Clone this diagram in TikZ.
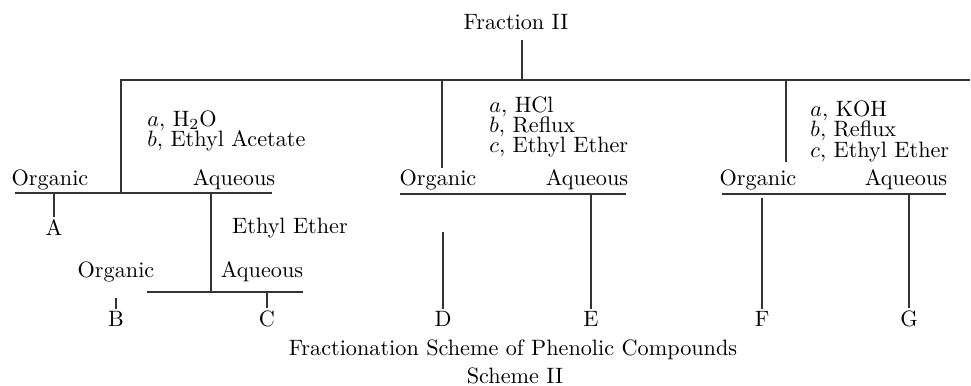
\documentclass[tikz,border=0pt]{standalone}
\usepackage{amsmath}
\usepackage{xcolor}
\usepackage{tikz}
\usetikzlibrary{positioning,calc}
\tikzset{
  lbl/.style  ={inner sep=1pt, font=\normalsize},
  reag/.style ={align=left, anchor=north west, inner sep=0pt,
                font=\fontsize{10}{9.2}\selectfont},
  link/.style ={draw=black!80, line width=0.5pt}
}

\begin{document}
\begin{tikzpicture}[x=0.45pt, y=-0.45pt]
  \useasboundingbox (0,0) rectangle (971,385);
  % source and main bar
  \node[lbl] (frac) at (516,22) {Fraction II};
  \coordinate (fract) at (522,40);
  \coordinate (fracj) at (522,80);
  \coordinate (barl) at (120,80); \coordinate (barr) at (970,80);
  \draw[link] (fract) -- (fracj);
  \draw[link] (barl) -- (barr);

  % left branch
  \coordinate (lj) at (121,193);
  \node[reag] (rl) at (147,110) {$a$, H$_2$O\\$b$, Ethyl Acetate};
  \node[lbl] (orgl) at (50,180)  {Organic};
  \node[lbl] (aqul) at (234,180) {Aqueous};
  \coordinate (lbl0) at (15,193); \coordinate (lbr0) at (272,193);
  \draw[link] (barl -| lj) -- (lj);
  \draw[link] (lbl0) -- (lbr0);
  \node[lbl] (A) at (54,228) {A};
  \draw[link] (54,193) -- (A);
  \node[lbl] (ee) at (290,228) {Ethyl Ether};
  \coordinate (ej) at (211,292);
  \draw[link] (211,193) -- (ej);
  \node[lbl] (orgb) at (116,272) {Organic};
  \node[lbl] (aqub) at (262,272) {Aqueous};
  \coordinate (lbl1) at (147,292); \coordinate (lbr1) at (303,292);
  \draw[link] (lbl1) -- (lbr1);
  \node[lbl] (B) at (116,319) {B};
  \node[lbl] (C) at (267,319) {C};
  \draw[link] (116,298) -- (B);
  \draw[link] (267,292) -- (C);

  % middle branch
  \coordinate (mj) at (442,168);
  \draw[link] (barl -| mj) -- (mj);
  \node[reag] (rm) at (489,96) {$a$, HCl\\$b$, Reflux\\$c$, Ethyl Ether};
  \node[lbl] (orgm) at (438,180) {Organic};
  \node[lbl] (aqum) at (587,180) {Aqueous};
  \coordinate (mbl) at (400,194); \coordinate (mbr) at (626,194);
  \draw[link] (mbl) -- (mbr);
  \node[lbl] (D) at (443,319) {D};
  \node[lbl] (E) at (591,319) {E};
  \draw[link] (443,232) -- (D);
  \draw[link] (591,194) -- (E);

  % right branch
  \coordinate (rj) at (786,162);
  \draw[link] (barl -| rj) -- (rj);
  \node[reag] (rr) at (810,100) {$a$, KOH\\$b$, Reflux\\$c$, Ethyl Ether};
  \node[lbl] (orgr) at (758,180) {Organic};
  \node[lbl] (aqur) at (906,180) {Aqueous};
  \coordinate (rbl) at (722,194); \coordinate (rbr) at (946,194);
  \draw[link] (rbl) -- (rbr);
  \node[lbl] (F) at (762,319) {F};
  \node[lbl] (G) at (909,319) {G};
  \draw[link] (762,198) -- (F);
  \draw[link] (909,194) -- (G);

  % caption
  \node[lbl] (cap1) at (513,350) {Fractionation Scheme of Phenolic Compounds};
  \node[lbl] (cap2) at (515,376) {Scheme II};
\end{tikzpicture}
\end{document}
